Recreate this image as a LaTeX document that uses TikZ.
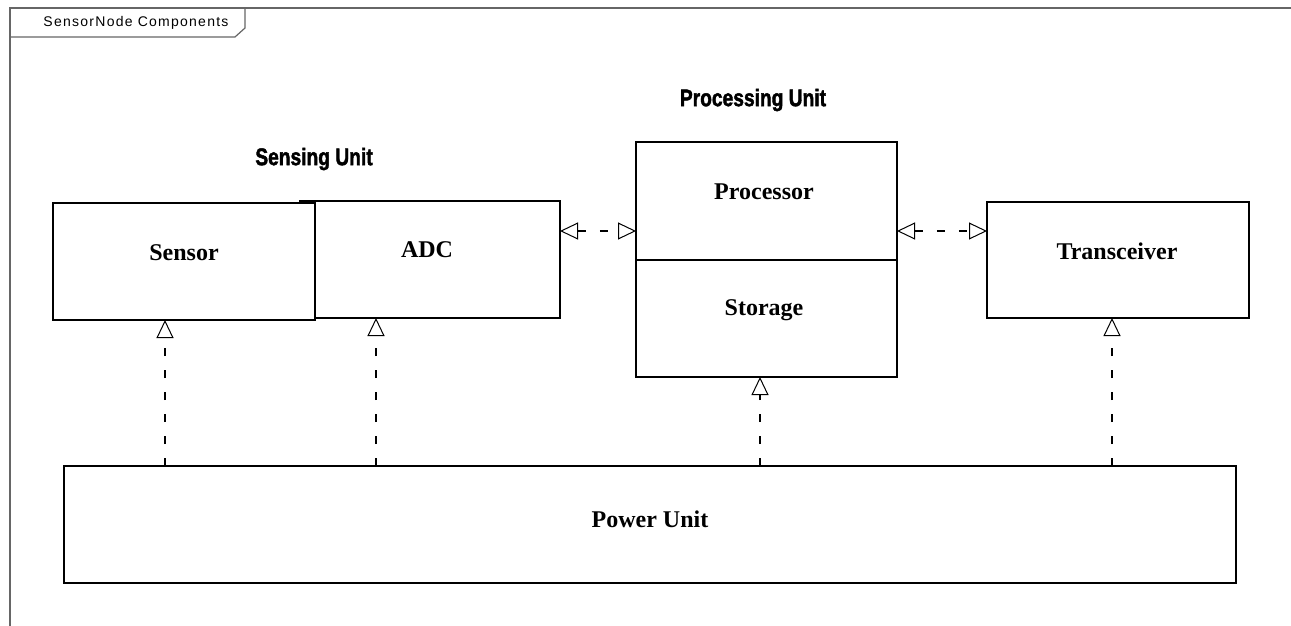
\documentclass[tikz,border=0pt]{standalone}
\usepackage{fontspec}
\usepackage{graphicx}
\setmainfont{Liberation Serif}
\newfontfamily\titlefont[FakeBold=2]{Liberation Sans}
\newfontfamily\tabfont[LetterSpace=9]{Liberation Sans}
\usetikzlibrary{arrows.meta}
\tikzset{
  box/.style={draw, line width=1.3pt, fill=white, inner sep=0pt, outer sep=0pt},
  lbl/.style={font=\bfseries\fontsize{24}{28}\selectfont, inner sep=0pt},
  ttl/.style={font=\titlefont\bfseries\fontsize{24}{28}\selectfont, inner sep=0pt},
  dep/.style={line width=1.1pt, dash pattern=on 8pt off 14pt},
  otip/.tip={Triangle[open, length=18pt, width=17pt, line width=1pt]},
  frame/.style={draw=black!60, line width=1.2pt}
}
\begin{document}
\begin{tikzpicture}[x=1pt,y=-1pt]
\useasboundingbox (0,0) rectangle (1291,626);
% frame and tab
\draw[frame] (1291,8) -- (10,8) -- (10,626);
\draw[frame] (10,8) -- (245,8) -- (245,28) -- (235,37) -- (10,37);
\node[font=\tabfont\fontsize{14}{16}\selectfont, inner sep=0pt] (tab) at (136,23) {SensorNode Components};
% titles
\node[ttl] (sensingT) at (314,159) {\scalebox{0.8}[1]{Sensing Unit}};
\node[ttl] (processingT) at (753,100) {\scalebox{0.8}[1]{Processing Unit}};
% boxes
\node[box, minimum width=260pt, minimum height=117pt] (adc) at (430,259.5) {};
\node[box, minimum width=262pt, minimum height=117pt] (sensor) at (184,261.5) {};
\node[box, minimum width=261pt, minimum height=118pt] (proc) at (766.5,201) {};
\node[box, minimum width=261pt, minimum height=117pt] (stor) at (766.5,318.5) {};
\node[box, minimum width=262pt, minimum height=116pt] (trans) at (1118,260) {};
\node[box, minimum width=1172pt, minimum height=117pt] (power) at (650,524.5) {};
% labels
\node[lbl] (sensorT) at (184,253) {Sensor};
\node[lbl] (adcT) at (427,250) {ADC};
\node[lbl] (procT) at (764,192) {Processor};
\node[lbl] (storT) at (764,310) {Storage};
\node[lbl] (transT) at (1117,251) {Transceiver};
\node[lbl] (powerT) at (650,519) {Power Unit};
% helper coordinates
\coordinate (row) at (0,231);
\coordinate (c1) at (165,0);
\coordinate (c2) at (376,0);
\coordinate (c3) at (760,0);
\coordinate (c4) at (1112,0);
% connectors
\draw[dep, {otip}-{otip}] (adc.east |- row) -- (proc.west |- row);
\draw[dep, {otip}-{otip}] (proc.east |- row) -- (trans.west |- row);
\draw[dep, -{otip}] (power.north -| c1) -- (sensor.south -| c1);
\draw[dep, -{otip}] (power.north -| c2) -- (adc.south -| c2);
\draw[dep, -{otip}] (power.north -| c3) -- (stor.south -| c3);
\draw[dep, -{otip}] (power.north -| c4) -- (trans.south -| c4);
\end{tikzpicture}
\end{document}
